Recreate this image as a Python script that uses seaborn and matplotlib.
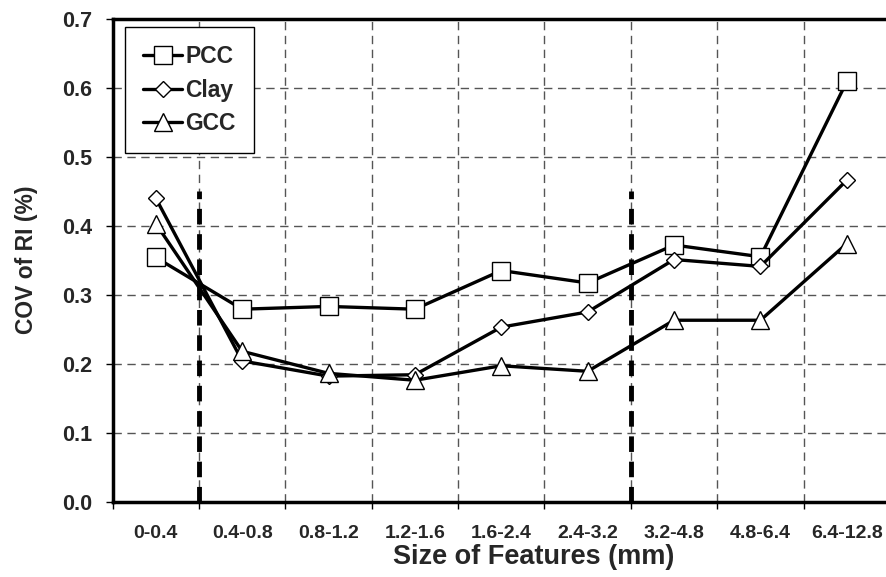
import numpy as np
import pandas as pd
import matplotlib
matplotlib.use('Agg')
import matplotlib.pyplot as plt
import seaborn as sns

sizes = ['0-0.4', '0.4-0.8', '0.8-1.2', '1.2-1.6', '1.6-2.4',
         '2.4-3.2', '3.2-4.8', '4.8-6.4', '6.4-12.8']
pcc = [0.354, 0.279, 0.283, 0.279, 0.335, 0.317, 0.372, 0.355, 0.609]
clay = [0.440, 0.204, 0.182, 0.184, 0.253, 0.275, 0.351, 0.341, 0.466]
gcc = [0.403, 0.218, 0.186, 0.176, 0.197, 0.189, 0.263, 0.263, 0.374]
# thick dashed separators sit on the boundaries after these categories
split_after = ['0-0.4', '2.4-3.2']
split_top = 0.45

sns.set_style('white')
plt.rcParams['font.family'] = ['Liberation Sans', 'DejaVu Sans']
plt.rcParams['font.weight'] = 'bold'

idx = np.arange(len(sizes))
df = pd.DataFrame({'x': idx, 'PCC': pcc, 'Clay': clay, 'GCC': gcc})

fig = plt.figure(figsize=(8.87, 5.77), dpi=100)
ax = fig.add_axes([112.6 / 887, 75.3 / 577, (890 - 112.6) / 887, 483 / 577])

series = [('PCC', 's', 12.5), ('Clay', 'D', 8.5), ('GCC', '^', 12.5)]
for name, mk, ms in series:
    sns.lineplot(data=df, x='x', y=name, ax=ax, color='black', lw=2.4,
                 marker=mk, markersize=ms, markerfacecolor='white',
                 markeredgecolor='black', markeredgewidth=1.0, label=name,
                 zorder=3)

for s in split_after:
    xb = sizes.index(s) + 0.5
    ax.plot([xb, xb], [0, split_top], color='black', lw=3.5,
            dashes=(3.2, 2.0), zorder=2)

yt = np.arange(0, 0.71, 0.1)
ax.set_xlim(-0.5, len(sizes) - 0.5)
ax.set_ylim(0, 0.7)
ax.set_yticks(yt)
ax.set_yticklabels([f'{v:.1f}' for v in yt], fontsize=15.5, fontweight='bold')

ax.set_xticks(np.arange(len(sizes) + 1) - 0.5)
ax.set_xticklabels([])
ax.set_xticks(idx, minor=True)
ax.set_xticklabels(sizes, minor=True, fontsize=14, fontweight='bold')
ax.tick_params(axis='x', which='major', direction='out', length=5, width=1, color='black')
ax.tick_params(axis='x', which='minor', length=0, pad=17)
ax.tick_params(axis='y', direction='out', length=5, width=1, color='black', pad=10)
ax.xaxis.set_ticks_position('bottom')
ax.yaxis.set_ticks_position('left')

ax.grid(True, which='major', color='#555555', lw=1.0, ls=(0, (6, 4)))
for sp in ax.spines.values():
    sp.set_color('black')
    sp.set_linewidth(2.5)

ax.set_xlabel('Size of Features (mm)', fontsize=19.5, fontweight='bold')
ax.xaxis.set_label_coords(0.542, -0.088)
ax.set_ylabel('COV of RI (%)', fontsize=16.5, fontweight='bold', labelpad=17)

leg = ax.legend(loc='upper left', bbox_to_anchor=(0.016, 0.983), frameon=True,
                fancybox=False, edgecolor='black', framealpha=1,
                prop={'size': 16.5, 'weight': 'bold'}, handlelength=1.7,
                handletextpad=0.12, borderpad=0.8, labelspacing=0.45,
                borderaxespad=0)
leg.get_frame().set_linewidth(1.0)

fig.savefig('out.png', dpi=100)
